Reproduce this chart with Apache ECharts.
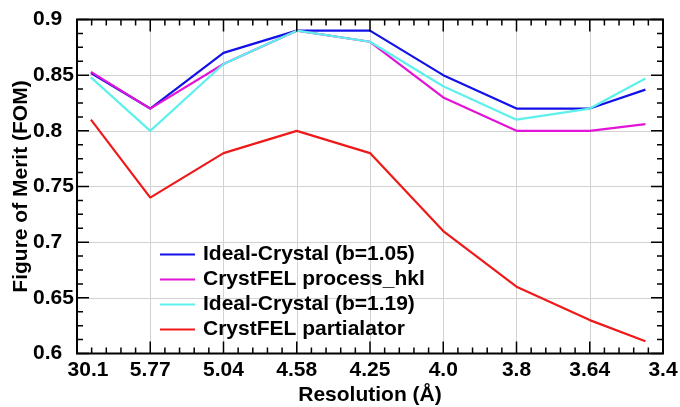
<!DOCTYPE html>
<html>
<head>
<meta charset="utf-8">
<script src="https://cdn.jsdelivr.net/npm/echarts@6/dist/echarts.min.js"></script>
<style>
  html, body { margin: 0; padding: 0; background: #fff; }
  #chart { width: 680px; height: 407px; }
</style>
</head>
<body>
<div id="chart"></div>
<script>
// Resolution shell labels, one per unit step of the x axis
const tickLabels = ['30.1', '5.77', '5.04', '4.58', '4.25', '4.0', '3.8', '3.64', '3.4'];

// x position of each data point along the shell axis
const xPos = [0.19, 1, 2, 3, 4, 5, 6, 7, 7.76];

// Figure of merit per resolution shell
const idealB105 = [0.852, 0.82, 0.87, 0.89, 0.89, 0.85, 0.82, 0.82, 0.837];
const processHkl = [0.853, 0.82, 0.86, 0.89, 0.88, 0.83, 0.80, 0.80, 0.806];
const idealB119 = [0.848, 0.80, 0.86, 0.89, 0.88, 0.84, 0.81, 0.82, 0.847];
const partialator = [0.81, 0.74, 0.78, 0.80, 0.78, 0.71, 0.66, 0.63, 0.611];

const seriesNames = ['Ideal-Crystal (b=1.05)', 'CrystFEL process_hkl', 'Ideal-Crystal (b=1.19)', 'CrystFEL partialator'];
const seriesValues = [idealB105, processHkl, idealB119, partialator];
const seriesColors = ['#1212e8', '#e215d6', '#5ef0ec', '#ee1a1a'];

// Axis ranges and tick spacing
const X_MIN = 0, X_MAX = 8, X_STEP = 1, X_MINOR = 5;
const Y_MIN = 0.6, Y_MAX = 0.9, Y_STEP = 0.05, Y_MINOR = 4;

const FONT = '"Liberation Sans", Arial, Helvetica, sans-serif';
const FS = 21;

// Plot box in pixels, and tick lengths in pixels
const GRID = { left: 77, right: 17, top: 19.5, bottom: 53.5 };
const W = 680, H = 407;
const MAJOR_LEN = 12, MINOR_LEN = 6;
const xPerPx = (X_MAX - X_MIN) / (W - GRID.left - GRID.right);
const yPerPx = (Y_MAX - Y_MIN) / (H - GRID.top - GRID.bottom);

// Inward tick marks on all four frame sides, as broken polylines in axis units
function frameTicks() {
  const pts = [];
  const nx = Math.round((X_MAX - X_MIN) / X_STEP) * X_MINOR;
  for (let k = 0; k <= nx; k++) {
    const v = X_MIN + k * X_STEP / X_MINOR;
    const d = (k % X_MINOR === 0 ? MAJOR_LEN : MINOR_LEN) * yPerPx;
    pts.push([v, Y_MIN], [v, Y_MIN + d], [v, null]);
    pts.push([v, Y_MAX], [v, Y_MAX - d], [v, null]);
  }
  const ny = Math.round((Y_MAX - Y_MIN) / Y_STEP) * Y_MINOR;
  for (let k = 0; k <= ny; k++) {
    const v = Y_MIN + k * Y_STEP / Y_MINOR;
    const d = (k % Y_MINOR === 0 ? MAJOR_LEN : MINOR_LEN) * xPerPx;
    pts.push([X_MIN, v], [X_MIN + d, v], [null, v]);
    pts.push([X_MAX, v], [X_MAX - d, v], [null, v]);
  }
  return pts;
}

const chart = echarts.init(document.getElementById('chart'), null, { renderer: 'canvas' });

const gridLine = () => ({ show: true, lineStyle: { color: '#d2d2d2', width: 1 } });
const labelFont = { fontFamily: FONT, fontSize: FS, fontWeight: 'bold', color: '#000' };

const lineSeries = seriesNames.map((name, i) => ({
  name,
  type: 'line',
  symbol: 'none',
  color: seriesColors[i],
  lineStyle: { color: seriesColors[i], width: 2.2 },
  data: xPos.map((x, j) => [x, seriesValues[i][j]]),
  z: 2 + i
}));

chart.setOption({
  backgroundColor: '#fff',
  animation: false,
  grid: Object.assign({
    outerBoundsMode: 'none',
    show: true, borderColor: '#000', borderWidth: 2, backgroundColor: 'transparent', z: 10
  }, GRID),
  legend: {
    orient: 'vertical',
    left: 155,
    top: 239,
    itemWidth: 35,
    itemHeight: 14,
    itemGap: 4,
    icon: 'path://M0,6 L35,6 L35,8 L0,8 Z',
    textStyle: Object.assign({ padding: [0, 0, 0, 3] }, labelFont),
    data: seriesNames
  },
  xAxis: {
    type: 'value', min: X_MIN, max: X_MAX, interval: X_STEP,
    axisLine: { show: false },
    axisTick: { show: false },
    splitLine: gridLine(),
    axisLabel: Object.assign({
      // the lowest shell label sits over the first data point
      formatter: v => v === 0 ? '{first|' + tickLabels[0] + '}' : tickLabels[Math.round(v)],
      rich: { first: Object.assign({ padding: [0, 0, 0, 22] }, labelFont) },
      margin: 6
    }, labelFont),
    name: 'Resolution (Å)',
    nameLocation: 'middle',
    nameGap: 31,
    nameMoveOverlap: false,
    nameTextStyle: Object.assign({ verticalAlign: 'top' }, labelFont)
  },
  yAxis: {
    type: 'value', min: Y_MIN, max: Y_MAX, interval: Y_STEP,
    axisLine: { show: false },
    axisTick: { show: false },
    splitLine: gridLine(),
    axisLabel: Object.assign({
      formatter: v => String(+v.toFixed(2)),
      align: 'left', margin: 44
    }, labelFont),
    name: 'Figure of Merit (FOM)',
    nameLocation: 'middle',
    nameGap: 45,
    nameMoveOverlap: false,
    nameTextStyle: labelFont
  },
  series: lineSeries.concat([{
    name: 'frame ticks',
    type: 'line',
    symbol: 'none',
    connectNulls: false,
    clip: false,
    silent: true,
    color: '#000',
    lineStyle: { color: '#000', width: 1.5 },
    data: frameTicks(),
    z: 11
  }])
});
</script>
</body>
</html>
